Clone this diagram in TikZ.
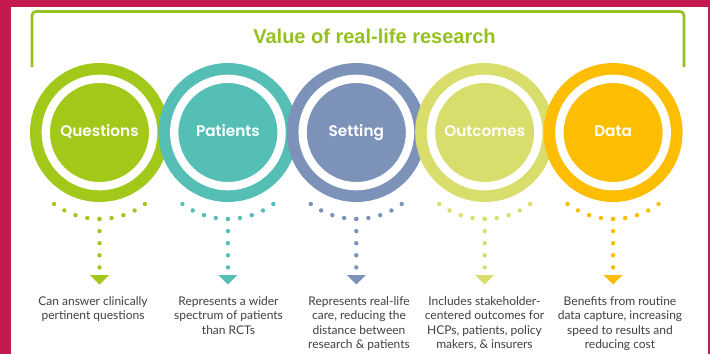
\documentclass[tikz,border=0pt]{standalone}
\usepackage{fontspec}
\setmainfont{Lato}
\newfontfamily\circfont{Poppins SemiBold}
\newfontfamily\headfont{Liberation Sans}
\usetikzlibrary{arrows.meta}
\definecolor{crim}{HTML}{C41A50}
\definecolor{grn}{HTML}{95C11F}
\definecolor{qcol}{HTML}{A2C81A}
\definecolor{pcol}{HTML}{55BFB6}
\definecolor{scol}{HTML}{7C92B8}
\definecolor{ocol}{HTML}{D8DD6C}
\definecolor{dcol}{HTML}{FDBD01}
\definecolor{txtgray}{HTML}{404040}

\begin{document}
\begin{tikzpicture}[x=1pt, y=-1pt,
        ring/.style={circle, inner sep=0pt, minimum size=107.4pt, fill=#1,
            draw=white, line width=8.3pt,
            preaction={draw=#1, line width=31.6pt},
            text height=11pt, text depth=3pt,
            text=white, font=\circfont\fontsize{15.3}{18}\selectfont},
        dotarc/.style={draw=#1, line width=4.4pt, line cap=round,
            dash pattern=on 0pt off 12.17pt},
        dotline/.style={draw=#1, line width=4.4pt, line cap=round,
            dash pattern=on 0pt off 12.1pt,
            -{Triangle[width=19pt, length=9.5pt, line width=0pt]}},
        note/.style={anchor=north, inner sep=0pt, align=center, text=txtgray,
            font=\fontsize{12}{14.5}\selectfont}]
        \useasboundingbox (0,0) rectangle (710,354);
        \fill[crim] (0,0) rectangle (710,354);
        \fill[white] (11,7) rectangle (708,354);

        % bracket and heading
        \draw[grn, line width=2.6pt, rounded corners=4pt]
            (32,67) -- (32,11.5) -- (684,11.5) -- (684,67);
        \node[anchor=base, text=grn, font=\headfont\bfseries\fontsize{20}{24}\selectfont]
            (title) at (374.5,43.3) {Value of real-life research};

        % circles
        \node[ring=qcol] (q) at (99.5,132.5) {Questions};
        \node[ring=pcol] (p) at (227.9,132.5) {Patients};
        \node[ring=scol] (s) at (356.3,132.5) {Setting};
        \node[ring=ocol] (o) at (484.7,132.5) {Outcomes};
        \node[ring=dcol] (d) at (613.1,132.5) {Data};

        % dotted arcs
        \draw[dotarc=qcol] (q.center) ++(0,10) ++(126.5:76.5)
            arc[start angle=126.5, end angle=53.5, radius=76.5];
        \draw[dotarc=pcol] (p.center) ++(0,10) ++(126.5:76.5)
            arc[start angle=126.5, end angle=53.5, radius=76.5];
        \draw[dotarc=scol] (s.center) ++(0,10) ++(126.5:76.5)
            arc[start angle=126.5, end angle=53.5, radius=76.5];
        \draw[dotarc=ocol] (o.center) ++(0,10) ++(126.5:76.5)
            arc[start angle=126.5, end angle=53.5, radius=76.5];
        \draw[dotarc=dcol] (d.center) ++(0,10) ++(126.5:76.5)
            arc[start angle=126.5, end angle=53.5, radius=76.5];

        \coordinate (qtop) at (99.5,219);
        \coordinate (ptop) at (227.9,219);
        \coordinate (stop) at (356.3,219);
        \coordinate (otop) at (484.7,219);
        \coordinate (dtop) at (613.1,219);

        \coordinate (qend) at (99.5,284.5);
        \coordinate (pend) at (227.9,284.5);
        \coordinate (send) at (356.3,284.5);
        \coordinate (oend) at (484.7,284.5);
        \coordinate (dend) at (613.1,284.5);

        \draw[dotline=qcol] (qtop) -- (qend);
        \draw[dotline=pcol] (ptop) -- (pend);
        \draw[dotline=scol] (stop) -- (send);
        \draw[dotline=ocol] (otop) -- (oend);
        \draw[dotline=dcol] (dtop) -- (dend);

        % descriptions
        \node[note] (qtxt) at (93,296) {Can answer clinically\\pertinent questions};
        \node[note] (ptxt) at (228.5,296) {Represents a wider\\spectrum of patients\\than RCTs};
        \node[note] (stxt) at (359,296) {Represents real-life\\care, reducing the\\distance between\\research \& patients};
        \node[note] (otxt) at (484.5,296) {Includes stakeholder-\\centered outcomes for\\HCPs, patients, policy\\makers, \& insurers};
        \node[note] (dtxt) at (620,296) {Benefits from routine\\data capture, increasing\\speed to results and\\reducing cost};
    \end{tikzpicture}
\end{document}
